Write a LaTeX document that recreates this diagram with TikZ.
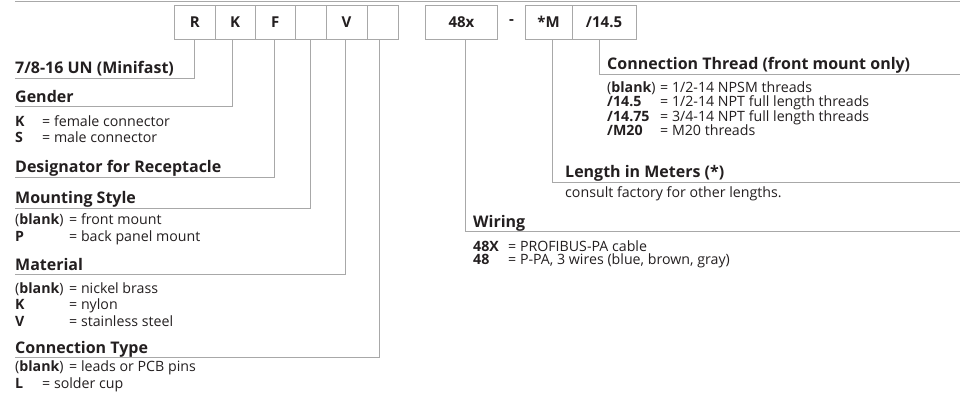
\documentclass[tikz,border=0pt]{standalone}
\usepackage{fontspec}
\setmainfont{Open Sans}
\definecolor{ln}{HTML}{A8A8A8}
\definecolor{tx}{HTML}{231F20}
\newcommand{\kv}[3]{\makebox[#1][l]{#2}= #3}
\begin{document}
\begin{tikzpicture}[x=1pt,y=-1pt,
  cell/.style={draw=ln, line width=0.9pt, minimum height=34pt, inner sep=0pt,
    font=\fontsize{15}{18}\selectfont\bfseries, text=tx},
  lead/.style={draw=ln, line width=1pt},
  head/.style={anchor=base west, inner sep=0pt, text=tx,
    font=\fontsize{16}{19}\selectfont\bfseries},
  row/.style={anchor=base west, inner sep=0pt, text=tx,
    font=\fontsize{14.2}{16}\selectfont}]
\useasboundingbox (0,0) rectangle (965,396);
% top rule
\coordinate (tl) at (15,1.5);
\coordinate (tr) at (960,1.5);
\draw[lead] (tl) -- (tr);
% code boxes
\node[cell, minimum width=40.5pt] (bR) at (194.75,22) {R};
\node[cell, minimum width=40pt]   (bK) at (235,22) {K};
\node[cell, minimum width=40.5pt] (bF) at (275.25,22) {F};
\node[cell, minimum width=30.5pt] (bA) at (310.75,22) {};
\node[cell, minimum width=41pt]   (bV) at (346.5,22) {V};
\node[cell, minimum width=31pt]   (bB) at (382.5,22) {};
\node[cell, minimum width=72pt]   (bW) at (461.5,22) {48x};
\node[font=\fontsize{15}{18}\selectfont\bfseries, text=tx, inner sep=0pt] (dash) at (511.5,22) {-};
\node[cell, minimum width=47pt]   (bM) at (548.5,22) {*M};
\node[cell, minimum width=64pt]   (bT) at (604,22) {/14.5};
% underline end points
\coordinate (uR) at (15,78);
\coordinate (uK) at (15,106);
\coordinate (uF) at (15,177);
\coordinate (uA) at (15,208);
\coordinate (uV) at (15,274);
\coordinate (uB) at (15,357);
\coordinate (uT) at (960,74);
\coordinate (uM) at (960,182);
\coordinate (uW) at (960,231.5);
% leaders
\draw[lead] (bR.south) |- (uR);
\draw[lead] ([xshift=-2.5pt]bK.south) |- (uK);
\draw[lead] ([xshift=-1pt]bF.south) |- (uF);
\draw[lead] (bA.south) |- (uA);
\draw[lead] ([xshift=-1pt]bV.south) |- (uV);
\draw[lead] ([xshift=-3pt]bB.south) |- (uB);
\draw[lead] ([xshift=4pt]bW.south) |- (uW);
\draw[lead] ([xshift=3.5pt]bM.south) |- (uM);
\draw[lead] ([xshift=-4.5pt]bT.south) |- (uT);
% left texts
\node[head] (hR) at (15,73.5) {7/8-16 UN (Minifast)};
\node[head] (hK) at (15,102) {Gender};
\node[row] (k1) at (15,126.5) {\kv{27pt}{\textbf{K}}{female connector}};
\node[row] (k2) at (15,142.5) {\kv{27pt}{\textbf{S}}{male connector}};
\node[head] (hF) at (15,172.5) {Designator for Receptacle};
\node[head] (hA) at (15,203.5) {Mounting Style};
\node[row] (a1) at (15,224) {\kv{54pt}{(\textbf{blank})}{front mount}};
\node[row] (a2) at (15,241.5) {\kv{54pt}{\textbf{P}}{back panel mount}};
\node[head] (hV) at (15,270) {Material};
\node[row] (v1) at (15,293) {\kv{54pt}{(\textbf{blank})}{nickel brass}};
\node[row] (v2) at (15,309.5) {\kv{54pt}{\textbf{K}}{nylon}};
\node[row] (v3) at (15,326) {\kv{54pt}{\textbf{V}}{stainless steel}};
\node[head] (hB) at (15,353) {Connection Type};
\node[row] (c1) at (15,371.5) {\kv{54pt}{(\textbf{blank})}{leads or PCB pins}};
\node[row] (c2) at (15,388) {\kv{27pt}{\textbf{L}}{solder cup}};
% right texts
\node[head] (hT) at (607,69.5) {Connection Thread (front mount only)};
\node[row] (t1) at (607,92) {\kv{53pt}{(\textbf{blank})}{1/2-14 NPSM threads}};
\node[row] (t2) at (607,106.5) {\kv{53pt}{\textbf{/14.5}}{1/2-14 NPT full length threads}};
\node[row] (t3) at (607,121) {\kv{53pt}{\textbf{/14.75}}{3/4-14 NPT full length threads}};
\node[row] (t4) at (607,135.5) {\kv{53pt}{\textbf{/M20}}{M20 threads}};
\node[head] (hM) at (565,177.5) {Length in Meters (*)};
\node[row] (m1) at (565,197.5) {consult factory for other lengths.};
\node[head] (hW) at (473,227) {Wiring};
\node[row] (w1) at (473,251) {\kv{35pt}{\textbf{48X}}{PROFIBUS-PA cable}};
\node[row] (w2) at (473,264.5) {\kv{35pt}{\textbf{48}}{P-PA, 3 wires (blue, brown, gray)}};
\end{tikzpicture}
\end{document}
